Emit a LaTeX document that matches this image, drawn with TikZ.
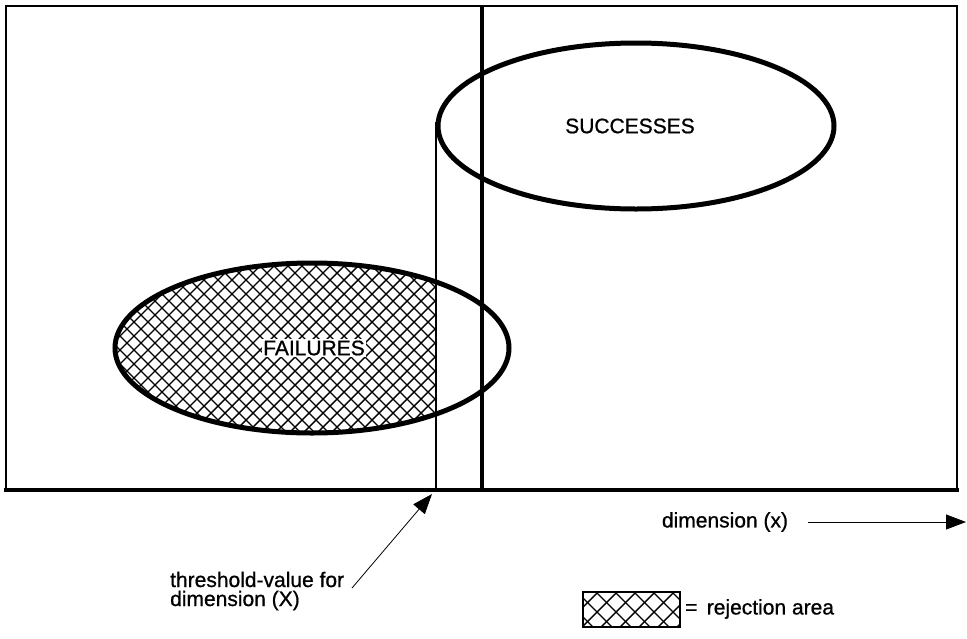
\documentclass[tikz,border=0pt]{standalone}
\usepackage{fontspec}
\setmainfont{Liberation Sans}
\newfontfamily\labelfont{Liberation Sans}[FakeBold=0.8]
\usetikzlibrary{arrows.meta}
\tikzset{
  thick ring/.style={line width=5pt},
  hatchline/.style={line width=1.4pt},
  label text/.style={font=\labelfont\fontsize{21}{19}\selectfont, inner sep=0pt},
  pointer/.style={line width=0.8pt,-{Triangle[length=20pt,width=15pt]}},
}
\begin{document}
\begin{tikzpicture}[x=1pt,y=-1pt]
\useasboundingbox[fill=white] (0,0) rectangle (967,638);
% frame
\draw[line width=2.5pt] (6,490) -- (6,6) -- (957,6) -- (957,490);
\draw[line width=4.5pt] (4,490) -- (959,490);
% hatching inside failures ellipse, left of threshold
\begin{scope}
  \clip (312,348) ellipse [x radius=197, y radius=85];
  \clip (100,250) rectangle (436,450);
  \foreach \k in {-120,-106,...,460} {
    \draw[hatchline] (\k,250) -- ++(200,200);
    \draw[hatchline] (\k+200,250) -- ++(-200,200);
  }
\end{scope}
% ellipses
\draw[thick ring] (312,348) ellipse [x radius=197, y radius=85];
\draw[thick ring] (636,126) ellipse [x radius=198, y radius=83];
% threshold lines
\draw[line width=2pt] (436,490) -- (436,122);
\draw[line width=3.5pt] (482,6) -- (482,490);
% labels
\node[label text] (succ) at (630,126) {SUCCESSES};
\node[label text, fill=white, inner sep=1.5pt] (fail) at (314,348) {FAILURES};
\node[label text] (dimx) at (725,522) {dimension (x)};
\node[label text, anchor=base west, align=left] (thr) at (170,606) {threshold-value for\\dimension (X)};
\coordinate (thrtail) at (352,588);
\coordinate (thrtip) at (432,494);
\coordinate (dimstart) at (808,522);
\coordinate (dimend) at (966,522);
\draw[pointer] (thrtail) -- (thrtip);
\draw[pointer] (dimstart) -- (dimend);
% legend
\begin{scope}
  \clip (583,592) rectangle (680,627);
  \foreach \k in {520,539,...,700} {
    \draw[hatchline] (\k,592) -- ++(40,40);
    \draw[hatchline] (\k+40,592) -- ++(-40,40);
  }
\end{scope}
\draw[line width=2pt] (583,592) rectangle (680,627);
\node[label text, anchor=west] (legtext) at (685,609) {= \,rejection area};
\end{tikzpicture}
\end{document}
